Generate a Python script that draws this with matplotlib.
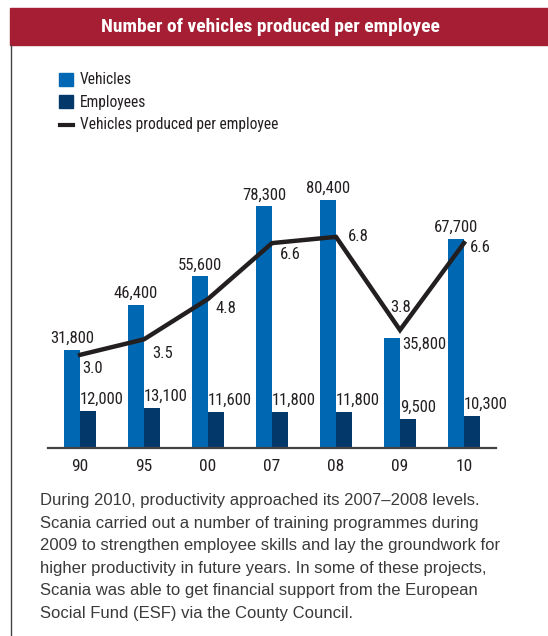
import numpy as np
import matplotlib.pyplot as plt
from matplotlib import font_manager
from matplotlib.patches import Rectangle
from matplotlib.lines import Line2D

# data
years = ['90', '95', '00', '07', '08', '09', '10']
vehicles = [31800, 46400, 55600, 78300, 80400, 35800, 67700]
employees = [12000, 13100, 11600, 11800, 11800, 9500, 10300]
per_employee = [3.0, 3.5, 4.8, 6.6, 6.8, 3.8, 6.6]

blue = '#0068b3'
navy = '#03396a'
red = '#a51e33'
ink = '#231f20'

# pick a condensed sans (Helvetica Condensed look) if one is installed
have = {f.name for f in font_manager.fontManager.ttflist}
narrow_font = next((n for n in ['Nimbus Sans Narrow', 'Liberation Sans Narrow',
                                'Roboto Condensed', 'Archivo Narrow', 'PT Sans Narrow']
                    if n in have), None)
if narrow_font:
    narrow = dict(family=[narrow_font, 'DejaVu Sans'])
else:
    narrow = dict(family=['DejaVu Sans'], fontstretch='condensed')

W, H = 548, 636
fig = plt.figure(figsize=(W / 100, H / 100), dpi=100)

def fx(px):
    return px / W

def fy(py):
    return 1 - py / H

# red title banner and left frame line
fig.patches.append(Rectangle((fx(10), fy(45)), fx(538), fy(8) - fy(45),
                             transform=fig.transFigure, color=red, zorder=0))
fig.text(fx(270), fy(26.5), 'Number of vehicles produced per employee',
         color='white', fontsize=14, fontweight='bold', ha='center', va='center', **narrow)
fig.add_artist(Line2D([fx(10.5), fx(10.5)], [fy(45), 0], transform=fig.transFigure,
                      color='#444444', lw=1))

# chart area
ax = fig.add_axes([fx(48), fy(448), fx(496) - fx(48), fy(190) - fy(448)])
x = np.arange(len(years))
w = 0.25
ymax = 83600
ax.bar(x - w / 2, vehicles, w, color=blue)
ax.bar(x + w / 2, employees, w, color=navy)
ax.set_xlim(-0.5, len(years) - 0.5)
ax.set_ylim(0, ymax)
ax.set_xticks(x)
ax.set_xticklabels(years, fontsize=12.5, color=ink, **narrow)
ax.tick_params(axis='x', length=0, pad=8)
ax.set_yticks([])
for s in ['top', 'left', 'right']:
    ax.spines[s].set_visible(False)
ax.spines['bottom'].set_color('#444444')
ax.spines['bottom'].set_linewidth(1.6)

pt = 0.72  # points per pixel
lab = dict(fontsize=12, color=ink, **narrow)
for i in range(len(years)):
    if i == 5:
        ax.annotate(f'{vehicles[i]:,}', (x[i], vehicles[i]), xytext=(2 * pt, 1 * pt),
                    textcoords='offset points', ha='left', va='top', **lab)
    else:
        ax.annotate(f'{vehicles[i]:,}', (x[i] - w / 2, vehicles[i]), xytext=(0, 4 * pt),
                    textcoords='offset points', ha='center', va='bottom', **lab)
    ax.annotate(f'{employees[i]:,}', (x[i], employees[i]), xytext=(0, 4 * pt),
                textcoords='offset points', ha='left', va='bottom', **lab)

# productivity line on its own scale
ax2 = ax.twinx()
ax2.set_ylim(0, 8.31)
ax2.axis('off')
ax2.plot(x, per_employee, color=ink, lw=3.2, solid_joinstyle='miter')
offs = [(2, -6, 'left', 'top'), (8, -7, 'left', 'top'), (7, -2, 'left', 'top'),
        (8, -4, 'left', 'top'), (12, 0, 'left', 'center'), (1, 15, 'center', 'bottom'),
        (6, -4, 'left', 'center')]
for i, (dx, dy, ha, va) in enumerate(offs):
    ax2.annotate(f'{per_employee[i]:.1f}', (x[i], per_employee[i]),
                 xytext=(dx * pt, dy * pt), textcoords='offset points',
                 ha=ha, va=va, **lab)

# legend
fig.patches.append(Rectangle((fx(59), fy(86)), fx(14), fy(73) - fy(86),
                             transform=fig.transFigure, color=blue))
fig.patches.append(Rectangle((fx(59), fy(108)), fx(14), fy(95) - fy(108),
                             transform=fig.transFigure, color=navy))
fig.add_artist(Line2D([fx(60), fx(73)], [fy(125), fy(125)], transform=fig.transFigure,
                      color=ink, lw=3))
for ty, t in [(80, 'Vehicles'), (102, 'Employees'), (125, 'Vehicles produced per employee')]:
    fig.text(fx(80), fy(ty), t, fontsize=11.2, color=ink, va='center', **narrow)

para = ('During 2010, productivity approached its 2007\u20132008 levels.\n'
        'Scania carried out a number of training programmes during\n'
        '2009 to strengthen employee skills and lay the groundwork for\n'
        'higher productivity in future years. In some of these projects,\n'
        'Scania was able to get financial support from the European\n'
        'Social Fund (ESF) via the County Council.')
fig.text(fx(40), fy(493), para, family=['Liberation Sans', 'DejaVu Sans'], fontsize=12,
         color='#3a3a3a', va='top', ha='left', linespacing=1.63)

fig.savefig('out.png', dpi=100)
